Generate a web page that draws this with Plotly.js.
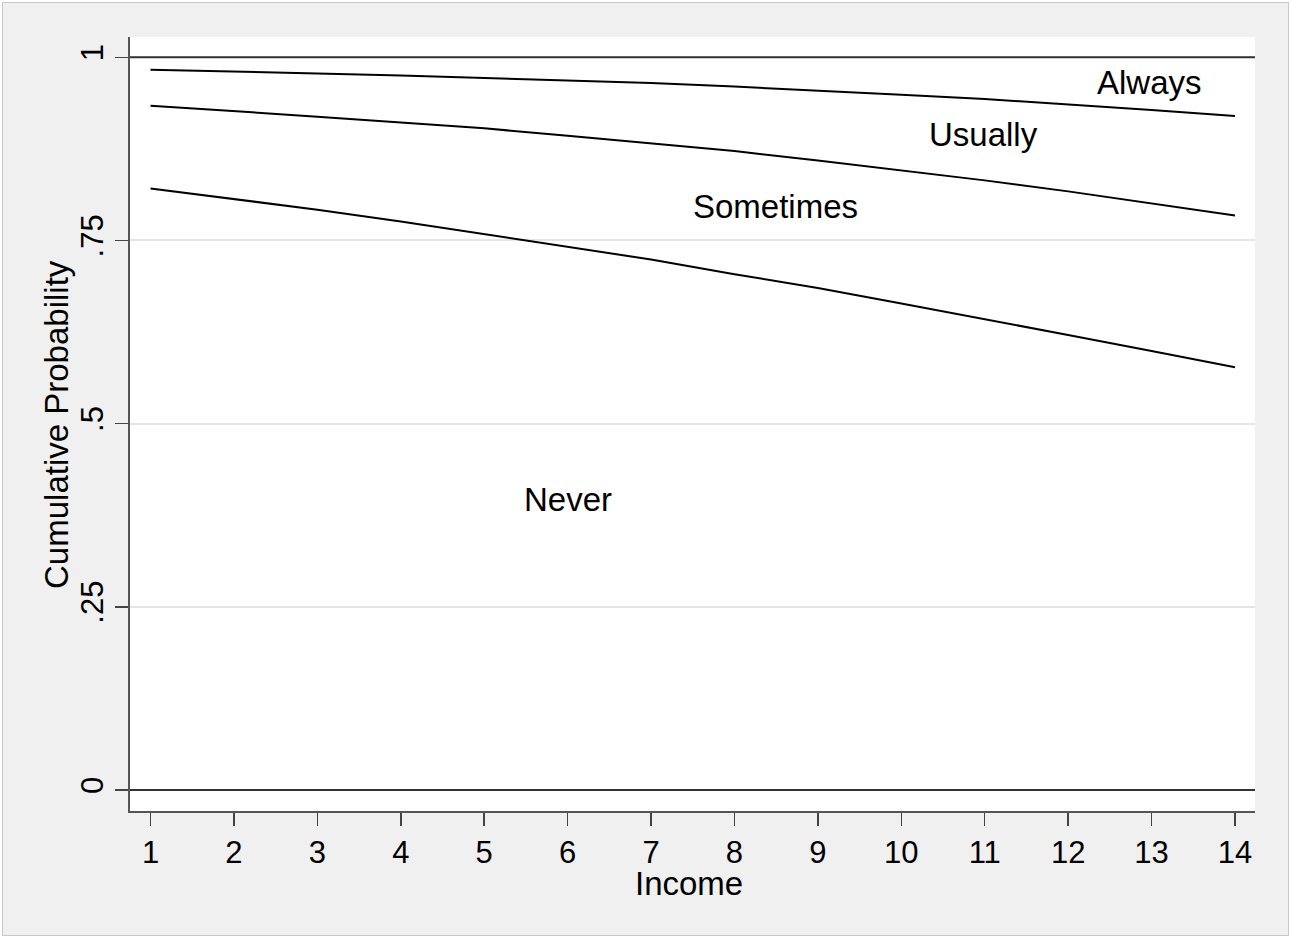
<!DOCTYPE html>
<html>
<head>
<meta charset="utf-8">
<script src="https://cdn.plot.ly/plotly-3.0.1.min.js"></script>
<style>
  html, body { margin: 0; padding: 0; background: #ffffff; }
  #wrap { position: relative; width: 1291px; height: 938px; }
  #chart { position: absolute; left: 0; top: 0; width: 1291px; height: 938px; }
  #frame { position: absolute; left: 2px; top: 2px; width: 1287px; height: 934px; box-sizing: border-box;
           border: 1px solid #c8c8c8; box-shadow: 0 0 0 2px #ffffff; pointer-events: none; }
</style>
</head>
<body>
<div id="wrap"><div id="chart"></div><div id="frame"></div></div>
<script>
// Income levels
const income = [1, 2, 3, 4, 5, 6, 7, 8, 9, 10, 11, 12, 13, 14];
// Cumulative probabilities
const cumNever     = [0.821, 0.807, 0.792, 0.776, 0.759, 0.742, 0.724, 0.704, 0.685, 0.664, 0.643, 0.621, 0.599, 0.577];
const cumSometimes = [0.934, 0.927, 0.919, 0.911, 0.903, 0.893, 0.883, 0.872, 0.859, 0.846, 0.832, 0.817, 0.801, 0.784];
const cumUsually   = [0.983, 0.981, 0.978, 0.975, 0.972, 0.969, 0.965, 0.960, 0.955, 0.949, 0.943, 0.936, 0.928, 0.920];
// Region labels
const regionLabels = ["Always", "Usually", "Sometimes", "Never"];
const labelX = [12.98, 10.99, 8.49, 6.0];
const labelY = [0.965, 0.895, 0.796, 0.397];
// Tick labels
const yTickVals = [0, 0.25, 0.5, 0.75, 1];
const yTickText = ["0", ".25", ".5", ".75", "1"];
// Axis titles
const xTitle = "Income";
const yTitle = "Cumulative Probability";

const FONT = "Liberation Sans, Arial, sans-serif";
const lineStyle = { color: "#000000", width: 2 };
const bigFont = { family: FONT, size: 33, color: "#000000" };
const tickFont = { family: FONT, size: 31, color: "#000000" };

const traces = [cumNever, cumSometimes, cumUsually].map(ys => ({
  x: income, y: ys, type: "scatter", mode: "lines", line: lineStyle,
  hoverinfo: "skip", showlegend: false
}));

const annotations = regionLabels.map((t, i) => ({
  x: labelX[i], y: labelY[i], xref: "x", yref: "y", text: t, showarrow: false,
  xanchor: "center", yanchor: "middle", font: bigFont
}));
annotations.push({
  x: 0.497, y: -0.094, xref: "paper", yref: "paper", text: xTitle, showarrow: false,
  xanchor: "center", yanchor: "middle", font: bigFont, borderpad: 0
});
annotations.push({
  x: -0.0658, y: 0.5, xref: "paper", yref: "paper", text: yTitle, showarrow: false,
  textangle: -90, xanchor: "center", yanchor: "middle", font: bigFont, borderpad: 0
});

const layout = {
  width: 1291, height: 938,
  margin: { l: 130, r: 36, t: 37, b: 127 },
  paper_bgcolor: "#f0f0f0",
  plot_bgcolor: "#ffffff",
  showlegend: false,
  font: { family: FONT, size: 31, color: "#000000" },
  xaxis: {
    range: [0.754, 14.24],
    tickvals: income,
    ticktext: income.map(String),
    ticks: "outside", ticklen: 13, tickwidth: 1.5, tickcolor: "#444444",
    showgrid: false, zeroline: false,
    showline: true, linecolor: "#555555", linewidth: 2,
    tickfont: tickFont,
    fixedrange: true
  },
  yaxis: {
    range: [-0.0287, 1.0277],
    tickvals: yTickVals,
    ticktext: yTickText,
    tickangle: -90,
    ticks: "outside", ticklen: 13, tickwidth: 1.5, tickcolor: "#444444",
    showgrid: true, gridcolor: "#e6e6e6", gridwidth: 2,
    zeroline: false,
    showline: true, linecolor: "#555555", linewidth: 2,
    tickfont: tickFont,
    fixedrange: true
  },
  shapes: [0, 1].map(v => ({
    type: "line", xref: "paper", x0: 0, x1: 1, yref: "y", y0: v, y1: v,
    line: { color: "#333333", width: 2 }, layer: "above"
  })),
  annotations: annotations
};

Plotly.newPlot("chart", traces, layout, { displayModeBar: false, staticPlot: true });
</script>
</body>
</html>
